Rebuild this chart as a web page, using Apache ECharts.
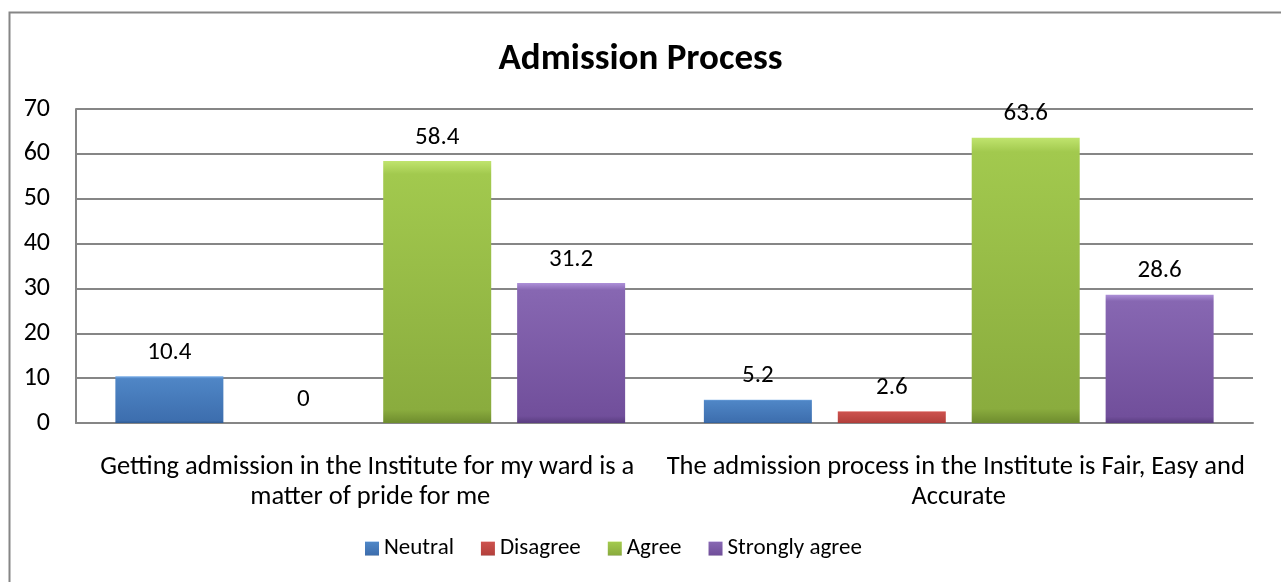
<!DOCTYPE html>
<html><head><meta charset="utf-8">
<script src="https://cdn.jsdelivr.net/npm/echarts@6/dist/echarts.min.js"></script>
<style>html,body{margin:0;padding:0;background:#fff}#c{width:1281px;height:582px}</style>
</head><body><div id="c"></div>
<script>
const titleText = 'Admission Process';
const categories = [
  'Getting admission in the Institute for my ward is a matter of pride for me',
  'The admission process in the Institute is Fair, Easy and Accurate'
];
const seriesNames = ['Neutral', 'Disagree', 'Agree', 'Strongly agree'];
const neutral = [10.4, 5.2];
const disagree = [0, 2.6];
const agree = [58.4, 63.6];
const stronglyAgree = [31.2, 28.6];
const yTicks = [0, 10, 20, 30, 40, 50, 60, 70];

const FONT = 'Carlito, Lato, sans-serif';
const palettes = [
  ['#7aaee8', '#4f86c6', '#3d6eae', '#2f5a91'],
  ['#e88582', '#cc524e', '#b4403c', '#8f302e'],
  ['#c0e46e', '#a2c94e', '#8aac3e', '#6e8c2e'],
  ['#ad90d8', '#8767b2', '#714f9b', '#5a3d80']
];
function grad(p) {
  return {type: 'linear', x: 0, y: 0, x2: 0, y2: 1, colorStops: [
    {offset: 0, color: p[0]}, {offset: 0.05, color: p[1]}, {offset: 0.95, color: p[2]}, {offset: 1, color: p[3]}
  ]};
}
const values = [neutral, disagree, agree, stronglyAgree];
const chart = echarts.init(document.getElementById('c'));
chart.setOption({
  animation: false,
  backgroundColor: '#fff',
  title: {text: titleText, left: 'center', top: 36, textStyle: {fontFamily: FONT, fontSize: 37, fontWeight: 'bold', color: '#000'}},
  graphic: [{type: 'rect', left: 7, top: 10, shape: {width: 1300, height: 620}, style: {fill: 'none', stroke: '#868686', lineWidth: 2}, silent: true}],
  grid: {left: 76, right: 28, top: 109, bottom: 159},
  legend: {
    bottom: 17, left: 360, itemWidth: 14, itemHeight: 14, itemGap: 27,
    icon: 'rect',
    textStyle: {fontFamily: FONT, fontSize: 23, color: '#000', padding: [0, 0, 0, 0]},
    data: seriesNames
  },
  xAxis: {
    type: 'category', data: categories,
    axisLine: {lineStyle: {color: '#868686', width: 2}},
    axisTick: {show: false},
    axisLabel: {fontFamily: FONT, fontSize: 26.5, color: '#000', interval: 0, width: 600, overflow: 'break', lineHeight: 29.5, margin: 30, align: 'center'}
  },
  yAxis: {
    type: 'value', min: yTicks[0], max: yTicks[yTicks.length - 1], interval: 10,
    axisLine: {show: true, lineStyle: {color: '#868686', width: 2}},
    axisTick: {show: false},
    splitLine: {lineStyle: {color: '#868686', width: 2}},
    axisLabel: {fontFamily: FONT, fontSize: 26, color: '#000', margin: 26}
  },
  series: seriesNames.map((n, i) => ({
    name: n, type: 'bar', data: values[i], barWidth: 108, barGap: '24%',
    itemStyle: {color: grad(palettes[i]), borderWidth: 0},
    label: {show: true, position: 'top', distance: 11, fontFamily: FONT, fontSize: 25, color: '#000'}
  }))
});
</script></body></html>
